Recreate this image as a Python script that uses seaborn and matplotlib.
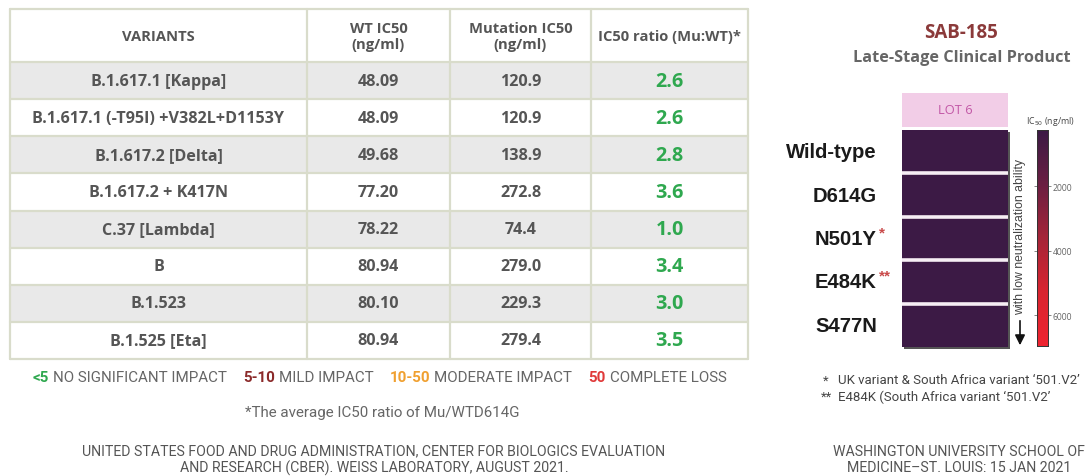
import numpy as np
import pandas as pd
import matplotlib
matplotlib.use("Agg")
import matplotlib.pyplot as plt
import matplotlib.transforms as mtransforms
from matplotlib.patches import Rectangle
from matplotlib.colors import LinearSegmentedColormap
import seaborn as sns

# ---------------- data ----------------
variants = ["B.1.617.1 [Kappa]", "B.1.617.1 (-T95I) +V382L+D1153Y", "B.1.617.2 [Delta]",
            "B.1.617.2 + K417N", "C.37 [Lambda]", "B", "B.1.523", "B.1.525 [Eta]"]
wt_ic50 = [48.09, 48.09, 49.68, 77.20, 78.22, 80.94, 80.10, 80.94]
mut_ic50 = [120.9, 120.9, 138.9, 272.8, 74.4, 279.0, 229.3, 279.4]
ratio = [2.6, 2.6, 2.8, 3.6, 1.0, 3.4, 3.0, 3.5]
headers = ["VARIANTS", "WT IC50\n(ng/ml)", "Mutation IC50\n(ng/ml)", "IC50 ratio (Mu:WT)*"]

legend_items = [("<5", "NO SIGNIFICANT IMPACT", "#2fa84f"),
                ("5-10", "MILD IMPACT", "#8b2a2a"),
                ("10-50", "MODERATE IMPACT", "#f0a030"),
                ("50", "COMPLETE LOSS", "#e03a3a")]

sab_variants = ["Wild-type", "D614G", "N501Y", "E484K", "S477N"]
sab_marks = ["", "", "*", "**", ""]
sab_ic50 = [300, 300, 300, 300, 300]
cbar_ticks = [2000, 4000, 6000]
cbar_min, cbar_max = 260, 6960

# ---------------- figure ----------------
sns.set_theme(style="white")
plt.rcParams["font.family"] = ["Open Sans", "DejaVu Sans"]

W, H = 1088, 477
fig = plt.figure(figsize=(W / 100, H / 100), dpi=100)
ax = fig.add_axes([0, 0, 1, 1])
ax.set_xlim(0, W)
ax.set_ylim(H, 0)
ax.axis("off")

def fax(x0, y0, x1, y1):
    return [x0 / W, 1 - y1 / H, (x1 - x0) / W, (y1 - y0) / H]

# ---------------- table ----------------
col_edges = [10, 307, 450, 591, 748]
top, header_h, row_h = 10, 53, 37.125
grid_c = "#d9dccb"
txt_c = "#555555"
n = len(variants)
for i in range(n):
    y0 = top + header_h + i * row_h
    fc = "#e9e9e9" if i % 2 == 0 else "white"
    ax.add_patch(Rectangle((col_edges[0], y0), col_edges[-1] - col_edges[0], row_h,
                           facecolor=fc, edgecolor="none", zorder=1))
bottom = top + header_h + n * row_h
for x in col_edges:
    ax.plot([x, x], [top, bottom], color=grid_c, lw=1.6, zorder=2)
for i in range(n + 2):
    y = top if i == 0 else top + header_h + (i - 1) * row_h
    ax.plot([col_edges[0], col_edges[-1]], [y, y], color=grid_c, lw=1.6, zorder=2)

for j, h in enumerate(headers):
    cx = (col_edges[j] + col_edges[j + 1]) / 2
    ax.text(cx, top + header_h / 2 + 0.5, h, ha="center", va="center", fontsize=10.6,
            fontweight="bold", color=txt_c, linespacing=1.25, zorder=3)

for i in range(n):
    cy = top + header_h + (i + 0.5) * row_h
    cols = [variants[i], f"{wt_ic50[i]:.2f}", f"{mut_ic50[i]:.1f}"]
    for j, s in enumerate(cols):
        cx = (col_edges[j] + col_edges[j + 1]) / 2
        ax.text(cx, cy, s, ha="center", va="center", fontsize=11.6,
                fontweight="bold", color=txt_c, zorder=3)
    cx = (col_edges[3] + col_edges[4]) / 2
    ax.text(cx, cy, f"{ratio[i]:.1f}", ha="center", va="center", fontsize=14.2,
            fontweight="bold", color="#2fa84f", zorder=3)

# ---------------- legend line ----------------
cond = ["Roboto", "DejaVu Sans"]
lfs = 10.9
prev = None
for k, (num, lab, col) in enumerate(legend_items):
    if prev is None:
        t = ax.text(33, 378, num, ha="left", va="center", fontsize=lfs, color=col,
                    fontweight="bold", family=cond)
    else:
        t = ax.annotate(num, xy=(1, 0), xycoords=prev, xytext=(12, 0),
                        textcoords="offset points", ha="left", va="bottom",
                        fontsize=lfs, color=col, fontweight="bold", family=cond)
    prev = ax.annotate(lab, xy=(1, 0), xycoords=t, xytext=(2.5, 0),
                       textcoords="offset points", ha="left", va="bottom",
                       fontsize=lfs, color="#666666", family=cond)

ax.text(382, 413, "*The average IC50 ratio of Mu/WTD614G", ha="center", va="center",
        fontsize=10.9, color="#666666", family=cond)
ax.text(374, 460, "UNITED STATES FOOD AND DRUG ADMINISTRATION, CENTER FOR BIOLOGICS EVALUATION\n"
        "AND RESEARCH (CBER). WEISS LABORATORY, AUGUST 2021.",
        ha="center", va="center", fontsize=10.2, color="#555555", family=cond, linespacing=1.2)

# ---------------- right panel ----------------
ax.text(961, 33, "SAB-185", ha="center", va="center", fontsize=13.5, fontweight="bold",
        color="#8b3a3a")
ax.text(962, 58, "Late-Stage Clinical Product", ha="center", va="center", fontsize=11.7,
        fontweight="bold", color="#666666")

# LOT 6 header
ax.add_patch(Rectangle((902, 94), 106, 34, facecolor="#f2cde7", edgecolor="none"))
ax.text(955, 111, "LOT 6", ha="center", va="center", fontsize=9.3, color="#c257a6")
# shadow of heatmap
ax.add_patch(Rectangle((904, 133), 106, 217, facecolor="#555555", edgecolor="none"))

cmap = LinearSegmentedColormap.from_list(
    "ic50", ["#3b1a45", "#6a1f42", "#a52538", "#d82530", "#ee2430"])
hax = fig.add_axes(fax(902, 131, 1008, 348))
cax = fig.add_axes(fax(1037, 131, 1048, 347))
df = pd.DataFrame({"LOT 6": sab_ic50}, index=sab_variants)
sns.heatmap(df, ax=hax, cmap=cmap, vmin=cbar_min, vmax=cbar_max, cbar_ax=cax,
            xticklabels=False, yticklabels=False)
for i in range(1, len(sab_variants)):
    hax.axhline(i, color="#f6eef4", lw=2.6)

lab_tr = mtransforms.blended_transform_factory(ax.transData, hax.transData)
for i, (name, mk) in enumerate(zip(sab_variants, sab_marks)):
    ax.text(877, i + 0.5, name, transform=lab_tr, ha="right", va="center",
            fontsize=14.6, fontweight="bold", color="#1a1a1a",
            family=["Liberation Sans", "DejaVu Sans"])
    if mk:
        ax.text(879, i + 0.36, mk, transform=lab_tr, ha="left", va="center",
                fontsize=11, fontweight="bold", color="#c94a4a",
                family=["Liberation Sans", "DejaVu Sans"])

# colorbar styling
cax.invert_yaxis()
cax.set_yticks(cbar_ticks)
cax.set_yticklabels([str(t) for t in cbar_ticks])
cax.tick_params(axis="y", which="both", left=True, right=True, length=2.5, width=0.5,
                labelsize=6.2, labelcolor="#666666", color="#555555", pad=1)
for s in cax.spines.values():
    s.set_visible(True)
    s.set_color("#333333")
    s.set_linewidth(0.6)
ax.text(1050, 122, "IC$_{50}$ (ng/ml)", ha="center", va="center", fontsize=6.3,
        color="#444444")

# vertical annotation with arrow
ax.text(1020, 237, "with low neutralization ability", rotation=90, ha="center",
        va="center", fontsize=8.8, color="#444444", family=["Liberation Sans", "DejaVu Sans"])
ax.annotate("", xy=(1020, 349), xytext=(1020, 319),
            arrowprops=dict(arrowstyle="-|>,head_width=0.25,head_length=0.5",
                            color="#111111", lw=1.2))

# footnotes
ffs = 9.5
ax.text(823, 381, "*", ha="left", va="center", fontsize=ffs, color="#444444", family=cond)
ax.text(838, 381, "UK variant & South Africa variant \u2018501.V2\u2019", ha="left",
        va="center", fontsize=ffs, color="#444444", family=cond)
ax.text(821, 397, "**", ha="left", va="center", fontsize=ffs, color="#444444", family=cond)
ax.text(838, 397, "E484K (South Africa variant \u2018501.V2\u2019", ha="left",
        va="center", fontsize=ffs, color="#444444", family=cond)

ax.text(959, 460, "WASHINGTON UNIVERSITY SCHOOL OF\nMEDICINE\u2013ST. LOUIS: 15 JAN 2021",
        ha="center", va="center", fontsize=10.2, color="#555555", family=cond,
        linespacing=1.2)

fig.savefig("out.png", dpi=100, facecolor="white")
